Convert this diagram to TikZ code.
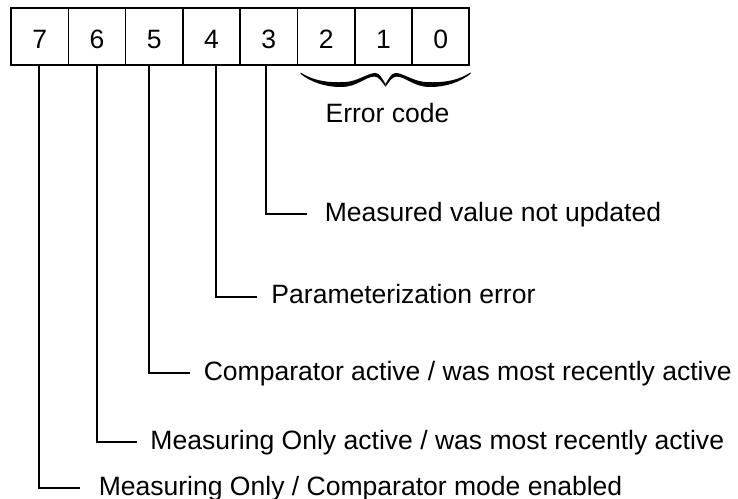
\documentclass[tikz,border=0pt]{standalone}
\usepackage{fontspec}
\setmainfont{Liberation Sans}
\usetikzlibrary{calc}
\begin{document}
\begin{tikzpicture}[x=0.75pt,y=-0.75pt,
  cell/.style={draw,line width=1.1pt,minimum width=42.975pt,minimum height=42.5pt,
    inner sep=0pt,outer sep=0pt,text height=17.5pt,text depth=0pt,
    font=\fontsize{19.9pt}{24pt}\selectfont},
  lbl/.style={anchor=base west,inner sep=0pt,font=\fontsize{19.9pt}{24pt}\selectfont},
  lead/.style={line width=1.3pt}]
\useasboundingbox (0,0) rectangle (738,499);

% register cells, bit 7 on the left
\foreach \b [count=\k from 0] in {7,6,5,4,3,2,1,0}
  \node[cell] (c\b) at ({11+57.3*(\k+0.5)},36.7) {\b};
\draw[line width=1.6pt] (c7.north west) rectangle (c0.south east);

% curly brace under the error-code bits, drawn as two mirrored filled arms
\coordinate (bc) at (385.5,0);
\foreach \s in {1,-1}
  \fill[shift={(bc)},xscale=\s]
    (-85,72.5) .. controls (-70,82) and (-55,82.5) .. (-42,82.2)
               .. controls (-28,81.8) and (-18,73) .. (-10,73)
               .. controls (-6,73) and (-3,79) .. (0,84)
    -- (0,86.8)
               .. controls (-4,81) and (-7,76.6) .. (-11,76.6)
               .. controls (-20,76.6) and (-28,86.8) .. (-44,87)
               .. controls (-60,87.2) and (-75,82) .. (-85,73.8) -- cycle;
\node[anchor=base,inner sep=0pt,font=\fontsize{19.9pt}{24pt}\selectfont] (err) at (387.5,122.7) {Error code};

% bit descriptions
\coordinate (e3) at (306.7,214.3);
\coordinate (e4) at (256.7,296.7);
\coordinate (e5) at (190,373.3);
\coordinate (e6) at (136.7,442.3);
\coordinate (e7) at (80,488.3);

\node[lbl] (t3) at (324.5,221.3) {Measured value not updated};
\node[lbl] (t4) at (271.2,303.7) {Parameterization error};
\node[lbl] (t5) at (203.5,380.3) {Comparator active / was most recently active};
\node[lbl] (t6) at (150.2,449.3) {Measuring Only active / was most recently active};
\node[lbl] (t7) at (98.5,495.3) {Measuring Only / Comparator mode enabled};

\draw[lead] ($(c3.south)+(-3.2,0)$) |- (e3);
\draw[lead] ($(c4.south)+(4.2,0)$) |- (e4);
\draw[lead] ($(c5.south)+(-5,0)$) |- (e5);
\draw[lead] ($(c6.south)+(-0.3,0)$) |- (e6);
\draw[lead] ($(c7.south)+(-1,0)$) |- (e7);
\end{tikzpicture}
\end{document}
